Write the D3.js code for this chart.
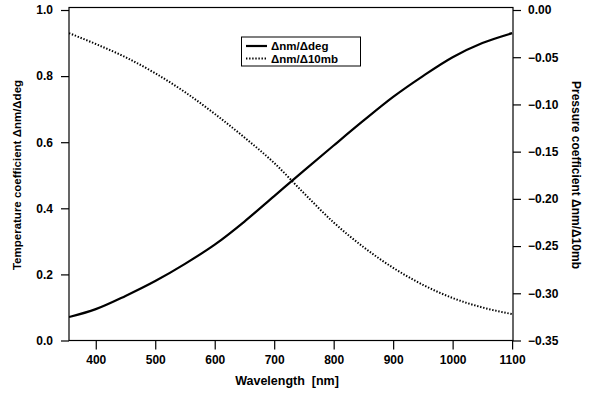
<!DOCTYPE html>
<html>
<head>
<meta charset="utf-8">
<script src="https://cdn.jsdelivr.net/npm/d3@7"></script>
<style>
  html, body { margin: 0; padding: 0; background: #fff; }
  svg { display: block; font-family: "Liberation Sans", Arial, Helvetica, sans-serif; font-weight: bold; }
  text { white-space: pre; }
</style>
</head>
<body>
<svg id="chart" width="590" height="394"></svg>
<script>
// Wavelength samples (nm)
const wavelength = [355, 400, 450, 500, 550, 600, 650, 700, 750, 800, 850, 900, 950, 1000, 1050, 1100];
// Temperature coefficient, nm per degree (left axis)
const tempCoef = [0.071, 0.095, 0.135, 0.180, 0.232, 0.290, 0.360, 0.437, 0.514, 0.590, 0.665, 0.737, 0.800, 0.857, 0.900, 0.930];
// Pressure coefficient, nm per 10 mb (right axis)
const presCoef = [-0.0245, -0.036, -0.050, -0.067, -0.087, -0.110, -0.135, -0.162, -0.194, -0.225, -0.251, -0.273, -0.291, -0.305, -0.315, -0.322];

const xTicks = [400, 500, 600, 700, 800, 900, 1000, 1100];
const leftTicks = [0.0, 0.2, 0.4, 0.6, 0.8, 1.0];
const rightTicks = [0.00, -0.05, -0.10, -0.15, -0.20, -0.25, -0.30, -0.35];

const legendLabels = ["\u0394nm/\u0394deg", "\u0394nm/\u039410mb"];

const svg = d3.select("#chart");
const m = { left: 69, right: 513, top: 7.5, bottom: 340.5 };

const x = d3.scaleLinear().domain([355, 1101.5]).range([m.left, m.right]);
const yL = d3.scaleLinear().domain([0, 1.0076]).range([m.bottom, m.top]);
const yR = d3.scaleLinear().domain([-0.35, 0.00265]).range([m.bottom, m.top]);

// Frame
svg.append("rect")
  .attr("x", m.left).attr("y", m.top)
  .attr("width", m.right - m.left).attr("height", m.bottom - m.top)
  .attr("fill", "none").attr("stroke", "#000").attr("stroke-width", 1.2);

function styleAxis(g) {
  g.select(".domain").remove();
  g.selectAll(".tick line").attr("stroke", "#000").attr("stroke-width", 1.2);
  g.selectAll(".tick text").attr("fill", "#000").attr("font-size", 12)
    .attr("font-family", "'Liberation Sans', Arial, sans-serif").attr("font-weight", "bold");
}

svg.append("g").attr("transform", `translate(0,${m.bottom})`)
  .call(d3.axisBottom(x).tickValues(xTicks).tickFormat(d3.format("d")).tickSize(9).tickPadding(6))
  .call(styleAxis);

svg.append("g").attr("transform", `translate(${m.left},0)`)
  .call(d3.axisLeft(yL).tickValues(leftTicks).tickFormat(d3.format(".1f")).tickSize(8).tickPadding(8))
  .call(styleAxis);

svg.append("g").attr("transform", `translate(${m.right},0)`)
  .call(d3.axisRight(yR).tickValues(rightTicks).tickFormat(d3.format(".2f")).tickSize(8).tickPadding(7))
  .call(styleAxis);

// Axis titles
svg.append("text").attr("x", 287).attr("y", 385).attr("text-anchor", "middle")
  .attr("font-size", 12.5).text("Wavelength  [nm]");

svg.append("text").attr("transform", "translate(21,175) rotate(-90)")
  .attr("text-anchor", "middle").attr("font-size", 11.5)
  .text("Temperature coefficient \u0394nm/\u0394deg");

svg.append("text").attr("transform", "translate(572,175) rotate(90)")
  .attr("text-anchor", "middle").attr("font-size", 12)
  .text("Pressure coefficient \u0394nm/\u039410mb");

// Curves
svg.append("clipPath").attr("id", "plot-clip")
  .append("rect").attr("x", m.left).attr("y", m.top)
  .attr("width", m.right - m.left).attr("height", m.bottom - m.top);

const tempLine = d3.line().curve(d3.curveMonotoneX)
  .x((d, i) => x(wavelength[i])).y(d => yL(d));
const presLine = d3.line().curve(d3.curveMonotoneX)
  .x((d, i) => x(wavelength[i])).y(d => yR(d));

svg.append("path").datum(tempCoef).attr("d", tempLine)
  .attr("fill", "none").attr("stroke", "#000").attr("stroke-width", 2.2)
  .attr("clip-path", "url(#plot-clip)");

svg.append("path").datum(presCoef).attr("d", presLine)
  .attr("fill", "none").attr("stroke", "#000").attr("stroke-width", 2)
  .attr("stroke-dasharray", "1.4,1.7")
  .attr("clip-path", "url(#plot-clip)");

// Legend
const lg = svg.append("g");
lg.append("rect").attr("x", 241.5).attr("y", 37).attr("width", 119).attr("height", 29)
  .attr("fill", "#fff").attr("stroke", "#000").attr("stroke-width", 1);
const styles = [{ w: 2.2, dash: null }, { w: 2, dash: "1.4,1.7" }];
legendLabels.forEach((lab, i) => {
  const cy = 46 + i * 12.5;
  lg.append("line").attr("x1", 246).attr("x2", 267).attr("y1", cy).attr("y2", cy)
    .attr("stroke", "#000").attr("stroke-width", styles[i].w)
    .attr("stroke-dasharray", styles[i].dash);
  lg.append("text").attr("x", 271).attr("y", cy + 4).attr("font-size", 11.5).text(lab);
});
</script>
</body>
</html>
